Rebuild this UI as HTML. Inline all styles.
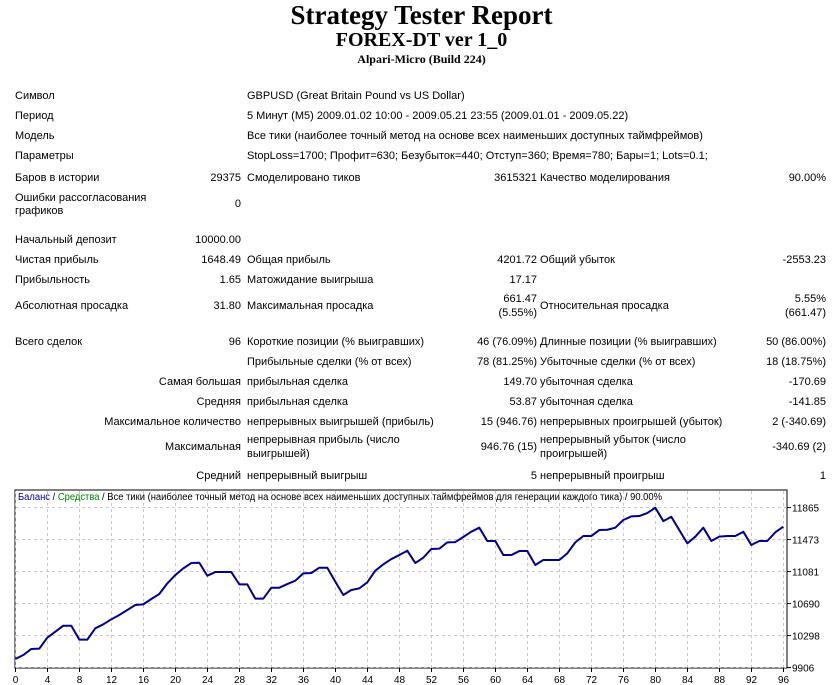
<!DOCTYPE html>
<html><head><meta charset="utf-8"><style>
body{margin:0;width:833px;height:685px;background:#fff;position:relative;overflow:hidden;font-family:"Liberation Sans","DejaVu Sans",sans-serif;font-size:11px;color:#000}
.t{position:absolute;white-space:nowrap;line-height:13px}
.r{text-align:right}
h1,h2,h3{position:absolute;left:0;width:843px;text-align:center;margin:0;font-family:"Liberation Serif",serif;font-weight:bold}
</style></head><body>
<h1 style="top:0;font-size:27px;line-height:30px">Strategy Tester Report</h1>
<h2 style="top:29px;font-size:20px;line-height:22px">FOREX-DT ver 1_0</h2>
<h3 style="top:52px;font-size:12px;line-height:14px">Alpari-Micro (Build 224)</h3>
<div id="tbl"></div>
<svg id="ch" width="833" height="200" style="position:absolute;left:0;top:485px" font-family="Liberation Sans, DejaVu Sans, sans-serif" font-size="10"></svg>
<script>
const cells=[
[15,97,'l','Символ'],[247,97,'l','GBPUSD (Great Britain Pound vs US Dollar)'],
[15,117,'l','Период'],[247,117,'l','5 Минут (M5) 2009.01.02 10:00 - 2009.05.21 23:55 (2009.01.01 - 2009.05.22)'],
[15,137,'l','Модель'],[247,137,'l','Все тики (наиболее точный метод на основе всех наименьших доступных таймфреймов)'],
[15,157,'l','Параметры'],[247,157,'l','StopLoss=1700; Профит=630; Безубыток=440; Отступ=360; Время=780; Бары=1; Lots=0.1;'],
[15,179,'l','Баров в истории'],[241,179,'r','29375'],[247,179,'l','Смоделировано тиков'],[537,179,'r','3615321'],[540,179,'l','Качество моделирования'],[826,179,'r','90.00%'],
[15,199,'l','Ошибки рассогласования'],[15,212,'l','графиков'],[241,205,'r','0'],
[15,241,'l','Начальный депозит'],[241,241,'r','10000.00'],
[15,261,'l','Чистая прибыль'],[241,261,'r','1648.49'],[247,261,'l','Общая прибыль'],[537,261,'r','4201.72'],[540,261,'l','Общий убыток'],[826,261,'r','-2553.23'],
[15,281,'l','Прибыльность'],[241,281,'r','1.65'],[247,281,'l','Матожидание выигрыша'],[537,281,'r','17.17'],
[15,307,'l','Абсолютная просадка'],[241,307,'r','31.80'],[247,307,'l','Максимальная просадка'],[537,300,'r','661.47'],[537,314,'r','(5.55%)'],[540,307,'l','Относительная просадка'],[826,300,'r','5.55%'],[826,314,'r','(661.47)'],
[15,343,'l','Всего сделок'],[241,343,'r','96'],[247,343,'l','Короткие позиции (% выигравших)'],[537,343,'r','46 (76.09%)'],[540,343,'l','Длинные позиции (% выигравших)'],[826,343,'r','50 (86.00%)'],
[247,363,'l','Прибыльные сделки (% от всех)'],[537,363,'r','78 (81.25%)'],[540,363,'l','Убыточные сделки (% от всех)'],[826,363,'r','18 (18.75%)'],
[241,383,'r','Самая большая'],[247,383,'l','прибыльная сделка'],[537,383,'r','149.70'],[540,383,'l','убыточная сделка'],[826,383,'r','-170.69'],
[241,403,'r','Средняя'],[247,403,'l','прибыльная сделка'],[537,403,'r','53.87'],[540,403,'l','убыточная сделка'],[826,403,'r','-141.85'],
[241,423,'r','Максимальное количество'],[247,423,'l','непрерывных выигрышей (прибыль)'],[537,423,'r','15 (946.76)'],[540,423,'l','непрерывных проигрышей (убыток)'],[826,423,'r','2 (-340.69)'],
[241,448,'r','Максимальная'],[247,441,'l','непрерывная прибыль (число'],[247,455,'l','выигрышей)'],[537,448,'r','946.76 (15)'],[540,441,'l','непрерывный убыток (число'],[540,455,'l','проигрышей)'],[826,448,'r','-340.69 (2)'],
[241,477,'r','Средний'],[247,477,'l','непрерывный выигрыш'],[537,477,'r','5'],[540,477,'l','непрерывный проигрыш'],[826,477,'r','1']
];
const tbl=document.getElementById('tbl');
cells.forEach(c=>{const d=document.createElement('div');d.className='t';d.textContent=c[3];
d.style.top=(c[1]-7)+'px';
if(c[2]==='r'){d.style.right=(833-c[0])+'px';}else{d.style.left=c[0]+'px';}


tbl.appendChild(d);});
</script>
<script>
const trades=[];for(let i=0;i<=96;i++)trades.push(i);
const balance=[10000,10049,10123,10127,10261,10335,10408,10408,10237,10237,10376,10425,10486,10539,10600,10661,10669,10735,10796,10926,11028,11110,11175,11179,11020,11065,11065,11065,10914,10914,10739,10739,10873,10873,10918,10959,11049,11053,11118,11118,10947,10784,10845,10865,10939,11081,11159,11224,11273,11326,11175,11241,11347,11351,11428,11432,11494,11559,11608,11445,11445,11273,11273,11322,11322,11151,11212,11212,11212,11294,11428,11506,11506,11579,11583,11608,11702,11746,11751,11787,11853,11689,11742,11579,11416,11498,11608,11445,11498,11506,11506,11559,11396,11445,11445,11551,11620];
const yTicks=[9906,10298,10690,11081,11473,11865];
const xTicks=[0,4,8,12,16,20,24,28,32,36,40,44,48,52,56,60,64,68,72,76,80,84,88,92,96];
const NS='http://www.w3.org/2000/svg';const svg=document.getElementById('ch');
const X=t=>15.3+t*8;const Y=v=>181.7-(v-9906)*160/1959;
function mk(tag,attrs,name){const e=document.createElementNS(NS,tag);for(const k in attrs)e.setAttribute(k,attrs[k]);


svg.appendChild(e);return e;}
mk('rect',{x:15,y:5,width:772,height:178,fill:'#fff',stroke:'#000','stroke-width':1},'plot-frame');
yTicks.forEach(v=>{const y=Math.round(Y(v))+0.5;
mk('line',{x1:16,x2:786,y1:y,y2:y,stroke:'#c8c8c8','stroke-dasharray':'3,3'},'y-gridline');
mk('line',{x1:787,x2:791,y1:y,y2:y,stroke:'#000'},'y-tick');
const t=mk('text',{x:792,y:y+4,fill:'#000'},'y-tick-label');t.textContent=v;});
xTicks.forEach(v=>{const x=Math.round(X(v))+0.5;
mk('line',{x1:x,x2:x,y1:6,y2:182,stroke:'#c8c8c8','stroke-dasharray':'3,3'},'x-gridline');
mk('line',{x1:x,x2:x,y1:183,y2:187,stroke:'#000'},'x-tick');
const t=mk('text',{x:x,y:198,'text-anchor':'middle',fill:'#000'},'x-tick-label');t.textContent=v;});
mk('polyline',{points:trades.map((t,i)=>X(t)+','+Y(balance[i])).join(' '),fill:'none',stroke:'#00008b','stroke-width':2,'stroke-linejoin':'round'},'balance-line');
const lg=mk('text',{x:18,y:15,fill:'#000','textLength':644,'lengthAdjust':'spacingAndGlyphs'},'chart-legend');
lg.innerHTML='<tspan fill="#00008b">Баланс</tspan> / <tspan fill="#008000">Средства</tspan> / Все тики (наиболее точный метод на основе всех наименьших доступных таймфреймов для генерации каждого тика) / 90.00%';
</script>
</body></html>
